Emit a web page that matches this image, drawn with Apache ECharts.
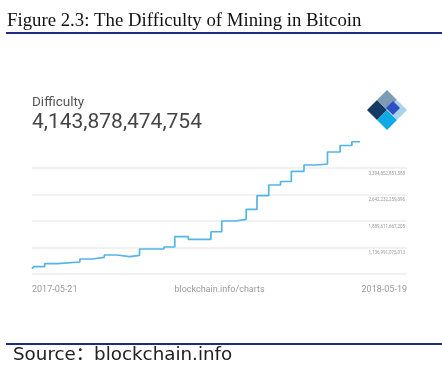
<!DOCTYPE html>
<html>
<head>
<meta charset="utf-8">
<script src="https://cdn.jsdelivr.net/npm/echarts@6/dist/echarts.min.js"></script>
<style>
html,body{margin:0;padding:0;background:#fff;}
#chart{width:442px;height:382px;}
</style>
</head>
<body>
<div id="chart"></div>
<script>
// ---- text ----
const figureTitle = 'Figure 2.3: The Difficulty of Mining in Bitcoin';
const metricName = 'Difficulty';
const currentValue = '4,143,878,474,754';
const sourceText = 'Source：blockchain.info';
const xAxisCaption = 'blockchain.info/charts';

// ---- data (difficulty adjustment dates and new difficulty) ----
const adjustDates = ['2017-05-21','2017-05-23','2017-06-04','2017-06-18','2017-07-13','2017-07-27',
  '2017-08-09','2017-08-23','2017-09-06','2017-09-17','2017-10-14','2017-10-26','2017-11-10',
  '2017-12-05','2017-12-17','2018-01-01','2018-01-13','2018-01-25','2018-02-07','2018-02-20',
  '2018-03-04','2018-03-18','2018-04-01','2018-04-13','2018-04-27','2018-05-10','2018-05-19'];
const difficulty = [535000000000, 592000000000, 677000000000, 725000000000, 810000000000, 859000000000,
  924000000000, 876000000000, 915000000000, 1094000000000, 1151000000000, 1444000000000, 1370000000000,
  1585000000000, 1890000000000, 1938000000000, 2222000000000, 2608000000000, 2912000000000, 3012000000000,
  3301000000000, 3480000000000, 3508000000000, 3849000000000, 4034000000000, 4143878474754, 4143878474754];

// ---- axis ticks ----
const yAxisMin = 384370482821;
const yAxisStep = 752620592192;
const yTickValues = [1136991075013, 1889611667205, 2642232259396, 3394852851588];
const xTickLabels = ['2017-05-21', '2018-05-19'];
const xAxisRange = ['2017-05-21', '2018-07-10'];

const fmt = v => v.toString().replace(/\B(?=(\d{3})+(?!\d))/g, ',');

const chart = echarts.init(document.getElementById('chart'), null, {renderer: 'canvas'});
const xMinTs = +new Date(xAxisRange[0] + 'T00:00:00');
const xMaxTs = +new Date(xAxisRange[1] + 'T00:00:00');

// logo geometry (decoration)
const cx = 387, cy = 110, h = 20;
const P = (x, y) => [cx + x, cy + y];
function poly(points, color) {
  return {type: 'polygon', shape: {points: points}, style: {fill: color}, silent: true};
}

chart.setOption({
  animation: false,
  backgroundColor: '#fff',
  title: [
    {text: figureTitle, left: 7, top: 12, padding: 0,
     textStyle: {fontFamily: 'Liberation Serif', fontSize: 18.8, fontWeight: 'normal', color: '#111'}},
    {text: metricName, left: 32, top: 96, padding: 0,
     textStyle: {fontFamily: 'Roboto', fontSize: 13.5, fontWeight: 'normal', color: '#555'}},
    {text: currentValue, left: 32, top: 112, padding: 0,
     textStyle: {fontFamily: 'Roboto', fontSize: 21, fontWeight: 'normal', color: '#444'}},
    {text: sourceText, left: 13, top: 346, padding: 0,
     textStyle: {fontFamily: '"DejaVu Sans", "Noto Sans CJK SC"', fontSize: 18.3, fontWeight: 'normal', color: '#222'}}
  ],
  grid: {left: 32, right: 35, top: 141.5, bottom: 108, containLabel: false},
  xAxis: [{
    type: 'time',
    min: xMinTs,
    max: xMaxTs,
    axisLine: {show: false},
    axisTick: {show: false},
    splitLine: {show: false},
    axisLabel: {show: false}
  }, {
    type: 'value',
    position: 'bottom',
    min: 0,
    max: 1,
    name: xAxisCaption,
    nameLocation: 'middle',
    nameGap: 11,
    nameMoveOverlap: false,
    nameTextStyle: {fontFamily: 'Roboto', fontSize: 9, color: '#9a9a9a', verticalAlign: 'top'},
    axisLine: {show: false},
    axisTick: {show: false},
    splitLine: {show: false},
    axisLabel: {
      customValues: [0, 1],
      alignMinLabel: 'left',
      alignMaxLabel: 'right',
      margin: 11,
      fontFamily: 'Roboto', fontSize: 9, color: '#9a9a9a',
      formatter: v => (v < 0.5 ? xTickLabels[0] : xTickLabels[1])
    }
  }],
  yAxis: {
    type: 'value',
    position: 'right',
    min: yAxisMin,
    max: yAxisMin + 5 * yAxisStep,
    interval: yAxisStep,
    axisLine: {show: false},
    axisTick: {show: false},
    splitLine: {show: true, showMaxLine: false, lineStyle: {color: '#ececec', width: 1.5}},
    axisLabel: {
      inside: true,
      align: 'right',
      verticalAlign: 'top',
      padding: [3, 0, 0, 0],
      margin: 2,
      showMinLabel: false,
      showMaxLabel: false,
      fontFamily: 'Roboto', fontSize: 4.5, color: '#999',
      formatter: v => {
        let best = yTickValues[0];
        yTickValues.forEach(t => { if (Math.abs(t - v) < Math.abs(best - v)) best = t; });
        return fmt(best);
      }
    }
  },
  series: [{
    type: 'line',
    xAxisIndex: 0,
    step: 'end',
    symbol: 'none',
    data: adjustDates.map((d, i) => [d, difficulty[i]]),
    lineStyle: {color: '#52b5e5', width: 1.7}
  }],
  graphic: [
    {type: 'rect', shape: {x: 6, y: 32, width: 436, height: 2}, style: {fill: '#1e2b84'}, silent: true},
    {type: 'rect', shape: {x: 6, y: 343, width: 436, height: 2}, style: {fill: '#1e2b84'}, silent: true},
    poly([P(-h, 0), P(-h/2, -h/2), P(0, 0), P(-h/2, h/2)], '#153b64'),
    poly([P(0, 0), P(h/2, h/2), P(0, h), P(-h/2, h/2)], '#10a9e6'),
    poly([P(0, -h), P(h/2, -h/2), P(0, 0), P(-h/2, -h/2)], '#7c9cb5'),
    poly([P(0, 0), P(h/2, -h/2), P(h, 0), P(h/2, h/2)], '#a9d2eb'),
    poly([P(6, -9), P(13, -2), P(6, 5), P(-1, -2)], '#2e4fc6')
  ]
});
</script>
</body>
</html>
